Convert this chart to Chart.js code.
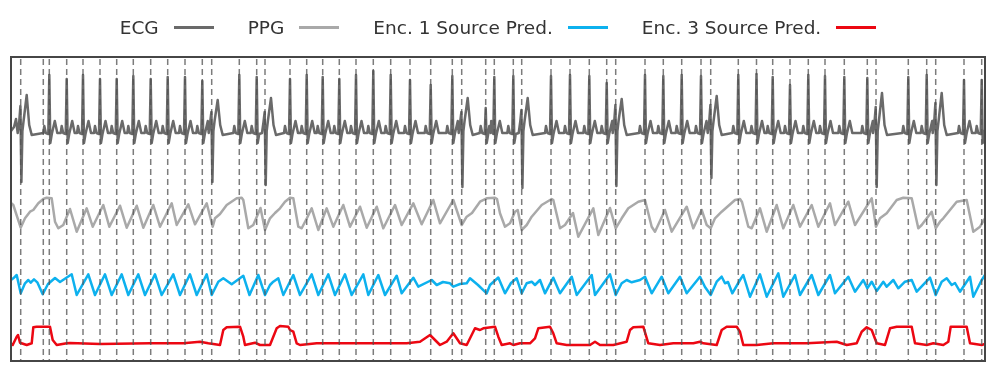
<!DOCTYPE html>
<html>
<head>
<meta charset="utf-8">
<script src="https://cdn.jsdelivr.net/npm/chart.js@4.4.1/dist/chart.umd.min.js"></script>
<style>
  html, body { margin: 0; padding: 0; background: #fff; }
  #wrap { position: relative; width: 996px; height: 372px; }
  #legend {
    position: absolute; left: 0; top: 0; width: 996px; height: 54px;
    display: flex; justify-content: center; align-items: center;
    font-family: "DejaVu Sans", sans-serif; font-size: 18.5px; color: #333;
  }
  .item { display: flex; align-items: center; margin: 0 17px; }
  .swatch { display: inline-block; width: 40px; height: 3px; margin-left: 15px; }
  #chart { position: absolute; left: 0; top: 0; }
</style>
</head>
<body>
<div id="wrap">
  <canvas id="chart" width="996" height="372"></canvas>
  <div id="legend"></div>
</div>
<script>
// x = sample position, y = display units (top of lane stack = small values)

// reference beat markers (dashed lines)
const markerX = [20.7, 43.3, 49.3, 66.7, 83, 100, 116.7, 133.3, 150.7, 167.7, 185, 202.3, 211.7,
  239.3, 256.7, 265, 290, 306.7, 322.7, 339.3, 356, 373.3, 390.7, 410, 430.7, 452.3, 461.7,
  485.7, 494.3, 513.3, 521.7, 551, 570, 589.3, 606.7, 615.7, 645, 663.3, 681.7, 701, 710.7,
  738.3, 756.5, 772.7, 790, 808.3, 825, 844.3, 867.3, 876, 908.3, 926.7, 935.7, 964, 981.7];

// ECG: normal beats (R position, R peak level)
const normalX = [49.3, 66.7, 83, 100, 116.7, 133.3, 150.7, 167.7, 185, 202.3, 239.3, 256.7,
  290, 306.7, 322.7, 339.3, 356, 373.3, 390.7, 410, 430.7, 452.3, 485.7, 494.3, 513.3, 551,
  570, 589.3, 606.7, 645, 663.3, 681.7, 701, 738.3, 756.5, 772.7, 790, 808.3, 825, 844.3,
  867.3, 908.3, 926.7, 964, 981.7];
const normalPeak = [75, 79, 75, 79, 79, 76, 79, 77, 77, 81, 75, 77,
  79, 75, 77, 79, 75, 71, 75, 80, 85, 76, 108, 77, 76, 76,
  75, 76, 83, 75, 76, 75, 76, 75, 74, 77, 85, 75, 76, 77,
  78, 77, 75, 80, 80];

// ECG: ectopic beats (position, up spike, down spike, broad hump)
const ectopicX = [20.7, 211.7, 265, 461.7, 521.7, 615.7, 710.7, 876, 935.7];
const ectopicUp = [106, 112, 112, 112, 110, 105, 105, 107, 103];
const ectopicDown = [182, 182, 185, 187, 188, 186, 178, 187, 185];
const ectopicHump = [95, 100, 98, 98, 98, 99, 96, 93, 93];

const ecgLead = [[11, 131], [14, 127], [16, 119]];

// PPG key points
const ppgPts = [[11, 203], [13.3, 205], [20.7, 227.7], [25, 218.3], [30, 211.7], [33.3, 210], [38.3, 203.3],
  [43.3, 199], [46.7, 197.7], [51.7, 198.3], [55, 221.7], [58.3, 228.3], [63.3, 225], [66.7, 216.7],
  [70, 209], [76.7, 231.7], [86.7, 208.3], [92.7, 226.7], [103.3, 205], [109.3, 226.7], [120, 205.7],
  [126.7, 227.7], [136.7, 205.7], [143.3, 227.7], [153.3, 205], [160, 226.7], [171.7, 203.3],
  [176.7, 225], [188.3, 204.3], [195, 224.3], [206.7, 203.3], [212.7, 226.7], [215, 218.3], [220, 214],
  [226.7, 205], [236.7, 198.3], [241.7, 197.7], [243.3, 200], [248.3, 228.3], [253.3, 225],
  [260.5, 208], [265, 230], [270, 218.3], [275, 213], [280, 208.3], [285, 201.7], [290, 197.7],
  [293.3, 198.3], [298.3, 226.7], [301.7, 228.3], [307, 218], [311.7, 208.3], [318.3, 230],
  [326.7, 208.3], [333.3, 226.7], [343.3, 205], [350, 226.7], [360, 206.7], [366.7, 227.7],
  [376.7, 206.7], [383.3, 228.3], [395, 205], [401.7, 225], [413.3, 203.3], [421.7, 224.3],
  [433.3, 200], [440, 223.3], [453.3, 200], [461.7, 225], [466.7, 216.7], [472, 213], [480, 201.7],
  [486.7, 198.3], [495, 197.7], [497, 199], [500, 213.3], [505, 226.7], [510, 223.3], [515, 211.7],
  [517.7, 210], [521.7, 230], [526.7, 225], [531.7, 216.7], [541.7, 205], [551.7, 199], [553.3, 200],
  [560, 228.3], [565, 225], [573, 213], [578.3, 236.7], [593.3, 208.3], [598.3, 235], [610, 208],
  [615.7, 228.3], [621.7, 218.3], [628.3, 208.3], [638.3, 201.7], [645, 200], [651.7, 226.7],
  [655, 231.7], [665, 210], [671.7, 231.7], [686.7, 206.7], [693.3, 228.3], [701.7, 210],
  [706.7, 225], [710.7, 228.3], [715, 218.3], [721.7, 211.7], [735, 200], [740, 199], [742, 202],
  [748.3, 226.7], [751.7, 228.3], [760, 208.3], [766.7, 231.7], [776.7, 205], [783.3, 228.3],
  [793.3, 205], [800, 226.7], [811.7, 205], [818.3, 226.7], [830, 203.3], [835, 225], [848.3, 201.7],
  [855, 225], [871.7, 198.3], [876, 226.7], [880, 218.3], [886.7, 213.3], [896.7, 200], [903.3, 197.7],
  [911.7, 198.3], [918.3, 228.3], [921.7, 225], [931.7, 211.7], [935.7, 228.3], [940, 221.7],
  [943.3, 218.3], [956.7, 201.7], [966.7, 200], [973.3, 231.7], [980, 226.7], [985, 218.3]];

// Encoder 1 source prediction key points
const enc1Pts = [[11, 280], [13.3, 278.3], [16.7, 275], [20.7, 293.3], [25, 283.3], [28.3, 280],
  [30.7, 282.7], [34, 279.3], [37.3, 282.3], [42.7, 294.3], [48, 284], [55, 278], [60, 282],
  [71.7, 274.3], [76.7, 295], [88.3, 274.3], [95, 295], [105, 274.3], [111.7, 295], [121.7, 274.3],
  [128.3, 295], [138.3, 274.3], [145, 295], [155, 274.3], [161.7, 295], [173.3, 274.3], [180, 295],
  [190, 274.3], [196.7, 295], [206.7, 274.3], [211.7, 295], [218.3, 281.7], [223.3, 278.3],
  [231.7, 284.3], [243.3, 275.7], [249.5, 295], [258.3, 275], [265, 295], [270, 285], [273.3, 281.7],
  [278.3, 278.3], [283.3, 295], [293.3, 275], [300, 295], [311.7, 274.3], [318.3, 295],
  [328.3, 274.3], [335, 295], [345, 274.3], [351.7, 295], [363.3, 274.3], [368.3, 295],
  [378.3, 275], [385, 295], [396.7, 275.7], [401.7, 293.3], [413.3, 277.7], [418.3, 286.7],
  [431.7, 280], [436.7, 285], [443, 282], [450, 283.3], [453.3, 286.7], [460, 284], [466.7, 283.3],
  [470, 278.3], [478, 285], [486.7, 293.3], [490, 285], [498.3, 277.5], [505, 293.3], [511, 283],
  [516.7, 278.3], [521.7, 293.3], [526.7, 283.3], [531.7, 281.7], [535, 285], [540, 280],
  [545, 293.3], [553.3, 277.7], [560, 293.3], [571.7, 276.7], [576.7, 295], [591.7, 275], [595, 295],
  [610, 274.3], [615.7, 295], [621.7, 283.3], [626.7, 280], [631.7, 282.3], [640, 280],
  [645, 276.7], [651.7, 293.3], [661.7, 276.7], [668.3, 293.3], [680, 276.7], [686.7, 293.3],
  [700, 276.7], [705, 287], [710.7, 295], [716.7, 281.7], [721.7, 276.7], [725, 283.3], [728, 282],
  [732.3, 293.3], [740, 280], [743.3, 275], [750, 296.7], [760, 274.3], [766.7, 296.7],
  [778.3, 273.3], [783.3, 296.7], [795, 275], [800, 295], [811.7, 275], [818.3, 295], [830, 275],
  [835, 293.3], [848.3, 276.7], [855, 291.7], [863.3, 280], [867.3, 288.3], [871.7, 281.7],
  [876.7, 291], [883.3, 281.7], [886.7, 286.7], [893.3, 280], [898.3, 288.3], [905, 281.7],
  [911.7, 280], [916.7, 291.7], [930, 277.7], [935.7, 295], [941.7, 281.7], [946.7, 278.3],
  [951.7, 285], [955, 283], [960, 291.7], [970, 276.7], [973.3, 296.7], [981.7, 280], [985, 275]];

// Encoder 3 source prediction key points
const enc3Pts = [[11, 344], [12.7, 345], [16.7, 336.7], [18, 335], [20, 342.7], [26.7, 345],
  [31.7, 343.3], [33.3, 327.3], [36.7, 326.7], [50, 326.7], [52.7, 340], [56.7, 345], [66.7, 343.3],
  [70, 343], [100, 344], [150, 343.3], [183.3, 343.3], [200, 341.7], [208.3, 343.3], [220, 345],
  [223.3, 330], [226.7, 327.3], [240, 326.7], [243.3, 336.7], [245, 345], [255, 342.7], [260, 345],
  [270, 345], [276.7, 328.3], [280, 326], [288.3, 326.7], [290, 330], [293.3, 331.7], [296.7, 343.3],
  [300, 345], [316.7, 343.3], [350, 343.3], [383.3, 343.3], [406.7, 343.3], [420, 341.7], [430, 335],
  [440, 345], [446.7, 341.7], [453.3, 333.3], [460, 343.3], [466.7, 345], [475, 328.3], [480, 330],
  [483.3, 328.3], [495, 326.7], [498.3, 336.7], [501.7, 345], [510, 343.3], [513.3, 345],
  [520, 343.3], [530, 343.3], [535, 338.3], [538.3, 328.3], [550, 326.7], [553.3, 333.3],
  [556.7, 343.3], [566.7, 345], [580, 345], [590, 345], [595, 341.7], [600, 345], [613.3, 345],
  [626.7, 341.7], [630, 330], [633.3, 327.3], [643.3, 326.7], [648.3, 343.3], [660, 345],
  [673.3, 343.3], [693.3, 343.3], [700, 341.7], [703.3, 343.3], [716.7, 345], [721.7, 330],
  [726.7, 326.7], [736.7, 326.7], [740, 331.7], [743.3, 345], [756.7, 345], [773.3, 343.3],
  [806.7, 343.3], [836.7, 341.7], [846.7, 345], [856.7, 343.3], [861.7, 331.7], [866.7, 327.3],
  [871.7, 330], [876.7, 343.3], [885, 345], [890, 328.3], [896.7, 326.7], [911.7, 326.7],
  [915, 343.3], [926.7, 345], [933.3, 343.3], [943.3, 345], [948.3, 341.7], [950.7, 326.7],
  [966.7, 326.7], [970, 343.3], [981.7, 345], [985, 344]];

const series = [
  { label: "ECG", color: "#6a6a6a", width: 2.5 },
  { label: "PPG", color: "#a9a9a9", width: 2.5 },
  { label: "Enc. 1 Source Pred.", color: "#0db1ee", width: 2.5 },
  { label: "Enc. 3 Source Pred.", color: "#ec0712", width: 2.5 }
];

// ECG trace: each beat contributes its QRS complex plus P/T waves
function buildEcg() {
  const beats = [];
  normalX.forEach((x, i) => beats.push({ x, shape: [[-6, 133], [-5, 126], [-3.5, 133], [-1, 134],
    [0, normalPeak[i]], [1, 143], [2.5, 134], [5.5, 121], [8, 133]] }));
  ectopicX.forEach((x, i) => beats.push({ x, shape: [[-3, 133], [-1.5, 122], [-0.3, ectopicUp[i]],
    [0.7, ectopicDown[i]], [1.7, 131], [3, 120], [6, ectopicHump[i]], [8.5, 125], [11, 135]] }));
  beats.sort((a, b) => a.x - b.x);
  const pts = ecgLead.map(p => ({ x: p[0], y: p[1] }));
  beats.forEach((b, i) => {
    const prevX = i > 0 ? beats[i - 1].x : -Infinity;
    const nextX = i < beats.length - 1 ? beats[i + 1].x : Infinity;
    b.shape.forEach(([dx, y]) => {
      const x = b.x + dx;
      if (dx < 0 ? x > prevX + 2.5 : x < nextX - 3) pts.push({ x, y });
    });
  });
  pts.sort((a, b) => a.x - b.x);
  return pts;
}

const toXY = arr => arr.map(p => ({ x: p[0], y: p[1] }));
const traces = [buildEcg(), toXY(ppgPts), toXY(enc1Pts), toXY(enc3Pts)];

// legend (label first, line sample after)
const legend = document.getElementById("legend");
series.forEach(s => {
  const item = document.createElement("div");
  item.className = "item";
  item.innerHTML = `<span>${s.label}</span><span class="swatch" style="background:${s.color}"></span>`;
  legend.appendChild(item);
});

const markerPlugin = {
  id: "markers",
  afterDatasetsDraw(chart) {
    const { ctx, chartArea, scales } = chart;
    ctx.save();
    ctx.beginPath();
    ctx.rect(chartArea.left, chartArea.top, chartArea.right - chartArea.left, chartArea.bottom - chartArea.top);
    ctx.clip();
    ctx.strokeStyle = "rgba(80, 80, 80, 0.75)";
    ctx.lineWidth = 1.5;
    ctx.setLineDash([6, 4]);
    markerX.forEach(v => {
      const px = scales.x.getPixelForValue(v);
      ctx.beginPath();
      ctx.moveTo(px, chartArea.top + 2);
      ctx.lineTo(px, chartArea.bottom);
      ctx.stroke();
    });
    ctx.restore();
  },
  afterDraw(chart) {
    const { ctx, chartArea } = chart;
    ctx.save();
    ctx.strokeStyle = "#464646";
    ctx.lineWidth = 2;
    ctx.strokeRect(chartArea.left, chartArea.top, chartArea.right - chartArea.left, chartArea.bottom - chartArea.top);
    ctx.restore();
  }
};

new Chart(document.getElementById("chart"), {
  type: "line",
  data: {
    datasets: series.map((s, i) => ({
      label: s.label,
      data: traces[i],
      borderColor: s.color,
      borderWidth: s.width,
      pointRadius: 0,
      tension: 0,
      borderJoinStyle: "round",
      borderCapStyle: "round",
      fill: false
    }))
  },
  options: {
    responsive: false,
    devicePixelRatio: 1,
    animation: false,
    layout: { padding: { left: 11, right: 11, top: 57, bottom: 11 } },
    plugins: { legend: { display: false }, tooltip: { enabled: false } },
    scales: {
      x: { type: "linear", min: 11, max: 985, display: false },
      y: { min: 57, max: 361, reverse: true, display: false }
    }
  },
  plugins: [markerPlugin]
});
</script>
</body>
</html>
